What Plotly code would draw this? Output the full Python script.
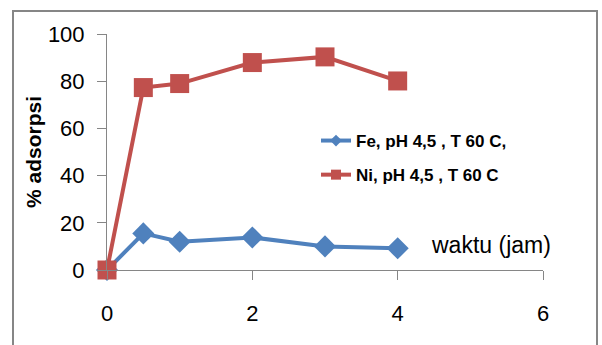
import plotly.graph_objects as go

# Contact time (hours) and adsorption percentage
waktu = [0, 0.5, 1, 2, 3, 4]
fe_adsorpsi = [0, 15.5, 12.0, 13.8, 10.0, 9.2]
ni_adsorpsi = [0, 77.3, 79.0, 87.9, 90.3, 80.1]

x_ticks = [0, 2, 4, 6]
y_ticks = [0, 20, 40, 60, 80, 100]

fe_label = "Fe, pH 4,5 , T 60 C,"
ni_label = "Ni, pH 4,5 , T 60 C"

BLUE = "#4F81BD"
RED = "#C0504D"
GREY = "#868686"
FONT = "Liberation Sans"

fig = go.Figure()
fig.add_trace(go.Scatter(
    x=waktu, y=fe_adsorpsi, name=fe_label, showlegend=False,
    mode="lines+markers", cliponaxis=False,
    line=dict(color=BLUE, width=4),
    marker=dict(symbol="diamond", size=17, color=BLUE),
))
fig.add_trace(go.Scatter(
    x=waktu, y=ni_adsorpsi, name=ni_label, showlegend=False,
    mode="lines+markers", cliponaxis=False,
    line=dict(color=RED, width=4),
    marker=dict(symbol="square", size=19, color=RED),
))
# legend entries with smaller symbols
fig.add_trace(go.Scatter(
    x=[None], y=[None], name=fe_label, legendgroup="fe",
    mode="lines+markers", line=dict(color=BLUE, width=4),
    marker=dict(symbol="diamond", size=9, color=BLUE),
))
fig.add_trace(go.Scatter(
    x=[None], y=[None], name=ni_label, legendgroup="ni",
    mode="lines+markers", line=dict(color=RED, width=4),
    marker=dict(symbol="square", size=10, color=RED),
))

W, H = 602, 345
ml, mr, mt, mb = 107, 59, 34, 75
pw, ph = W - ml - mr, H - mt - mb


def px_x(p):
    return (p - ml) / pw


def px_y(p):
    return (H - mb - p) / ph


fig.update_layout(
    width=W, height=H,
    margin=dict(l=ml, r=mr, t=mt, b=mb),
    paper_bgcolor="white", plot_bgcolor="white",
    font=dict(family=FONT, color="#000000"),
    showlegend=True,
    legend=dict(
        x=px_x(316), y=px_y(123), xanchor="left", yanchor="top",
        bgcolor="rgba(0,0,0,0)", borderwidth=0,
        font=dict(size=17, family=FONT, color="#000000", weight="bold"),
        tracegroupgap=9, itemwidth=30,
    ),
    xaxis=dict(
        range=[0, 6], tickvals=x_ticks, showgrid=False, zeroline=False,
        showline=True, linecolor=GREY, linewidth=1,
        ticks="outside", ticklen=9, tickcolor=GREY,
        tickfont=dict(size=22, family=FONT), ticklabelstandoff=15,
    ),
    yaxis=dict(
        range=[0, 100], tickvals=y_ticks, showgrid=False, zeroline=False,
        showline=True, linecolor=GREY, linewidth=1,
        ticks="outside", ticklen=9, tickcolor=GREY,
        tickfont=dict(size=22, family=FONT), ticklabelstandoff=8,
        title=dict(text="<b>% adsorpsi</b>", font=dict(size=21, family=FONT), standoff=0),
    ),
    annotations=[dict(
        text="waktu (jam)", x=px_x(429), y=px_y(245),
        xref="paper", yref="paper", xanchor="left", yanchor="middle",
        showarrow=False, font=dict(size=23, family=FONT, color="#000000"),
    )],
    shapes=[dict(
        type="rect", xref="paper", yref="paper",
        x0=px_x(13), x1=px_x(597), y0=px_y(360), y1=px_y(11),
        line=dict(color=GREY, width=2), fillcolor="rgba(0,0,0,0)", layer="below",
    )],
)

fig.write_html("out.html")
